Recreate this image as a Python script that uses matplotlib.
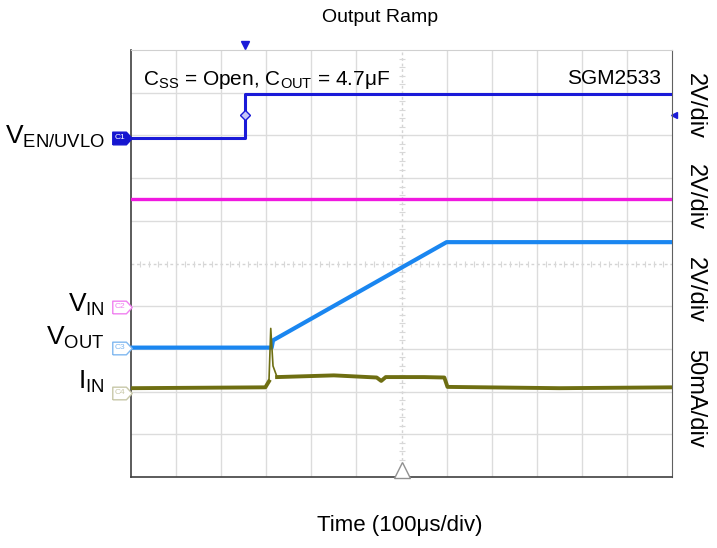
import numpy as np
import matplotlib.pyplot as plt
from matplotlib.path import Path

plt.rcParams['font.family'] = ['Liberation Sans', 'DejaVu Sans']
plt.rcParams['mathtext.fontset'] = 'custom'
plt.rcParams['mathtext.rm'] = 'Liberation Sans'
plt.rcParams['mathtext.it'] = 'Liberation Sans'

# traces, in scope divisions (x: 100us/div, y: div)
t_en = [0, 2.53, 2.53, 12]
v_en = [7.95, 7.95, 8.96, 8.96]

t_vin = [0, 12]
v_vin = [6.5, 6.5]

t_out = [0, 3.12, 3.15, 7.0, 12]
v_out = [3.03, 3.03, 3.2, 5.5, 5.5]

t_iin = [0, 2.98, 3.06, 3.1, 3.15, 3.24, 4.5, 5.45, 5.55, 5.65, 6.5, 6.95, 7.02, 9.5, 12]
i_iin = [2.08, 2.10, 2.24, 3.48, 2.6, 2.34, 2.38, 2.33, 2.25, 2.34, 2.34, 2.33, 2.11, 2.08, 2.10]
spike = slice(2, 6)  # the fast inrush spike is drawn thin

# channel ground markers
ch_names = ['C1', 'C2', 'C3', 'C4']
ch_levels = [7.95, 3.99, 3.03, 1.97]
ch_colors = ['#1515d0', '#f080f0', '#80b8f0', '#c8c8a8']

left_labels = [r'V$_{\mathrm{EN/UVLO}}$', r'V$_{\mathrm{IN}}$', r'V$_{\mathrm{OUT}}$', r'I$_{\mathrm{IN}}$']
left_label_y = [7.97, 4.03, 3.26, 2.23]

scale_labels = ['2V/div', '2V/div', '2V/div', '50mA/div']
scale_y = [8.69, 6.55, 4.38, 1.83]

fig = plt.figure(figsize=(7.17, 5.48), dpi=100)
ax = fig.add_axes([131/717, 71/548, 541/717, 427/548])
ax.set_xlim(0, 12)
ax.set_ylim(0, 10)

# grid
for x in range(1, 12):
    if x != 6:
        ax.axvline(x, color='#dcdcdc', lw=1, zorder=0)
for y in range(1, 10):
    if y != 5:
        ax.axhline(y, color='#dcdcdc', lw=1, zorder=0)
ax.axvline(6, color='#d4d4d4', lw=1, ls=(0, (2, 2)), zorder=0)
ax.axhline(5, color='#d4d4d4', lw=1, ls=(0, (2, 2)), zorder=0)
mt_y = np.arange(0.2, 10, 0.2)
mt_x = np.arange(0.2, 12, 0.2)
ax.plot(np.full_like(mt_y, 6), mt_y, ls='none', marker='_', ms=4, color='#d8d8d8', mew=0.8, zorder=0)
ax.plot(mt_x, np.full_like(mt_x, 5), ls='none', marker='|', ms=4, color='#d8d8d8', mew=0.8, zorder=0)

ax.set_xticks([])
ax.set_yticks([])
for s in ['left', 'bottom']:
    ax.spines[s].set_color('#404040')
    ax.spines[s].set_linewidth(1.2)
ax.spines['top'].set_color('#d0d0d0')
ax.spines['right'].set_color('#606060')

# traces
ax.plot(t_vin, v_vin, color='#f018e0', lw=2.4, zorder=3)
ax.plot(t_en, v_en, color='#1a1ad8', lw=2.2, zorder=4)
ax.plot(t_out, v_out, color='#1a86f0', lw=3.0, zorder=3)
ax.plot(t_iin[:spike.start + 1], i_iin[:spike.start + 1], color='#6e6e12', lw=2.8, zorder=3)
ax.plot(t_iin[spike], i_iin[spike], color='#6e6e12', lw=1.2, zorder=3)
ax.plot(t_iin[spike.stop - 1:], i_iin[spike.stop - 1:], color='#6e6e12', lw=2.8, zorder=3)

# trigger markers
ax.plot([2.53], [8.48], marker='D', ms=5, mfc='#c8c8f8', mec='#1a1ad8', zorder=5)
ax.plot([2.53], [10.12], marker='v', ms=6, color='#1a1ad8', clip_on=False)
ax.plot([12.05], [8.48], marker='<', ms=4, color='#1a1ad8', clip_on=False)
ax.plot([6], [0.17], marker='^', ms=11, mfc='white', mec='#909090', clip_on=False, zorder=5)

pent = Path([(-1, -0.65), (0.4, -0.65), (1, 0), (0.4, 0.65), (-1, 0.65), (-1, -0.65)])
for i, (name, lvl, col) in enumerate(zip(ch_names, ch_levels, ch_colors)):
    filled = i == 0
    ax.plot([-0.2], [lvl], marker=pent, ms=14, mfc=col if filled else 'white',
            mec=col, mew=1, clip_on=False, zorder=6)
    ax.text(-0.24, lvl, name, fontsize=6, color='white' if filled else col,
            ha='center', va='center', clip_on=False, zorder=7)

for lab, y in zip(left_labels, left_label_y):
    ax.text(-0.58, y, lab, fontsize=19, ha='right', va='center', clip_on=False)

for lab, y in zip(scale_labels, scale_y):
    ax.text(1.0425, y, lab, transform=ax.get_yaxis_transform(), fontsize=17,
            rotation=-90, ha='center', va='center', clip_on=False)

ax.text(0.023, 0.955, r'C$_{\mathrm{SS}}$ = Open, C$_{\mathrm{OUT}}$ = 4.7μF', transform=ax.transAxes,
        fontsize=15, ha='left', va='top')
ax.text(0.98, 0.955, 'SGM2533', transform=ax.transAxes, fontsize=15, ha='right', va='top')

fig.text(380/717, 1 - 18/548, 'Output Ramp', fontsize=14, ha='center', va='center')
fig.text(400/717, 1 - 525/548, 'Time (100μs/div)', fontsize=16, ha='center', va='center')

fig.savefig('out.png', dpi=100)
